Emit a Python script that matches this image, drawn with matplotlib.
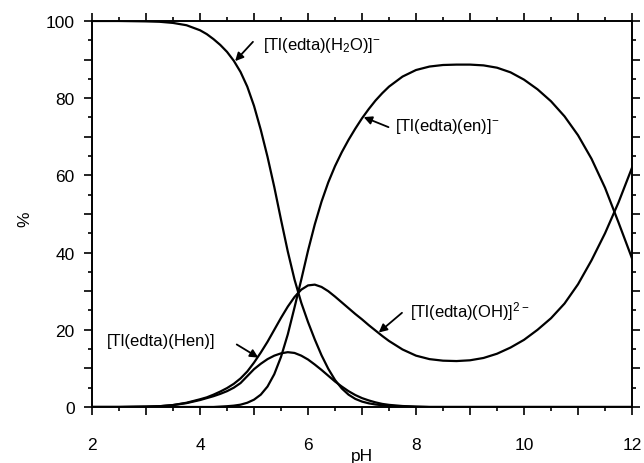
import matplotlib
matplotlib.use("Agg")
import matplotlib.pyplot as plt
from matplotlib.ticker import FixedLocator

plt.rcParams["font.family"] = ["Liberation Sans", "DejaVu Sans"]
plt.rcParams["mathtext.fontset"] = "custom"
plt.rcParams["mathtext.rm"] = "Liberation Sans"
plt.rcParams["mathtext.it"] = "Liberation Sans:italic"

# pH grid (finer in the steep region)
ph = [2.0, 2.5, 3.0, 3.25, 3.5, 3.75, 4.0,
      4.125, 4.25, 4.375, 4.5, 4.625, 4.75, 4.875, 5.0, 5.125, 5.25, 5.375,
      5.5, 5.625, 5.75, 5.875, 6.0, 6.125, 6.25, 6.375, 6.5, 6.625, 6.75,
      6.875, 7.0, 7.125, 7.25, 7.375, 7.5,
      7.75, 8.0, 8.25, 8.5, 8.75, 9.0, 9.25, 9.5, 9.75, 10.0, 10.25, 10.5,
      10.75, 11.0, 11.25, 11.5, 11.75, 12.0]

# species distribution, %
h2o = [100, 100, 99.9, 99.8, 99.5, 98.9, 97.6,
       96.6, 95.3, 93.8, 92.0, 89.7, 86.8, 83.0, 78.0, 71.8, 64.8, 57.0,
       48.5, 40.3, 33.0, 27.0, 22.0, 17.5, 13.4, 9.9, 7.0, 4.8, 3.2,
       2.1, 1.4, 0.95, 0.65, 0.45, 0.3,
       0.15, 0.05, 0, 0, 0, 0, 0, 0, 0, 0, 0, 0,
       0, 0, 0, 0, 0, 0]
hen = [0, 0, 0.1, 0.2, 0.5, 1.0, 1.8,
       2.3, 2.8, 3.4, 4.1, 5.0, 6.2, 8.0, 9.8, 11.2, 12.4, 13.3,
       13.9, 14.2, 14.0, 13.3, 12.3, 11.0, 9.6, 8.1, 6.6, 5.3, 4.1,
       3.1, 2.3, 1.7, 1.2, 0.8, 0.55,
       0.25, 0.1, 0, 0, 0, 0, 0, 0, 0, 0, 0, 0,
       0, 0, 0, 0, 0, 0]
oh = [0, 0, 0.1, 0.2, 0.5, 1.1, 2.0,
      2.5, 3.2, 4.0, 4.9, 6.0, 7.4, 9.2, 11.5, 14.1, 16.9, 20.0,
      23.1, 26.0, 28.5, 30.4, 31.5, 31.7, 31.1, 30.0, 28.6, 27.1, 25.6,
      24.1, 22.7, 21.2, 19.8, 18.4, 17.1,
      14.9, 13.3, 12.4, 12.0, 11.9, 12.1, 12.7, 13.8, 15.4, 17.4, 20.0, 23.0,
      26.8, 31.8, 38.0, 45.0, 53.0, 62.0]
en = [0, 0, 0, 0, 0, 0, 0,
      0, 0, 0.1, 0.2, 0.35, 0.6, 1.1, 1.9, 3.2, 5.3, 8.5,
      13.0, 18.8, 25.8, 33.0, 40.5, 47.3, 53.2, 58.2, 62.4, 66.0, 69.2,
      72.1, 74.8, 77.2, 79.4, 81.3, 83.0,
      85.6, 87.3, 88.2, 88.6, 88.7, 88.7, 88.5, 87.9, 86.7, 84.8, 82.3, 79.2,
      75.3, 70.4, 64.3, 56.8, 47.8, 38.5]

labels = [r"[Tl(edta)(H$_2$O)]$^{-}$", r"[Tl(edta)(en)]$^{-}$",
          r"[Tl(edta)(OH)]$^{2-}$", "[Tl(edta)(Hen)]"]

fig = plt.figure(figsize=(6.44, 4.64), dpi=100)
ax = fig.add_axes([0.1429, 0.1207, 0.8385, 0.8319])

for y in (h2o, hen, oh, en):
    ax.plot(ph, y, color="black", lw=1.6, solid_joinstyle="round")

ax.set_xlim(2, 12)
ax.set_ylim(0, 100)

# ticks on all sides, pointing out
ax.xaxis.set_major_locator(FixedLocator(range(2, 13)))
ax.xaxis.set_minor_locator(FixedLocator([x + 0.5 for x in range(2, 12)]))
ax.set_xticklabels([str(x) if x % 2 == 0 else "" for x in range(2, 13)])
ax.yaxis.set_major_locator(FixedLocator(range(0, 101, 10)))
ax.yaxis.set_minor_locator(FixedLocator(range(5, 100, 10)))
ax.set_yticklabels([str(v) if v % 20 == 0 else "" for v in range(0, 101, 10)])
ax.tick_params(which="both", direction="out", top=True, right=True,
               width=1.2, labelsize=12.5)
ax.tick_params(which="major", length=5.5)
ax.tick_params(which="minor", length=3)
ax.tick_params(axis="x", which="major", pad=16)
ax.tick_params(axis="y", which="major", pad=7)
for s in ax.spines.values():
    s.set_linewidth(1.4)

ax.set_xlabel("pH", fontsize=12.5)
ax.xaxis.set_label_coords(0.5, -0.105)
ax.text(-0.125, 0.49, "%", transform=ax.transAxes, rotation=90,
        ha="center", va="center", fontsize=12.5)

arrow = dict(arrowstyle="-|>", color="black", lw=1.3, mutation_scale=12,
             shrinkA=0, shrinkB=0)

# label text (pH, %) and arrow start -> tip
ax.text(5.17, 94.0, labels[0], fontsize=12, va="center", ha="left")
ax.annotate("", xy=(4.65, 89.6), xytext=(4.98, 94.6), arrowprops=arrow)

ax.text(7.61, 72.8, labels[1], fontsize=12, va="center", ha="left")
ax.annotate("", xy=(7.03, 75.1), xytext=(7.49, 72.5), arrowprops=arrow)

ax.text(7.89, 24.9, labels[2], fontsize=12, va="center", ha="left")
ax.annotate("", xy=(7.31, 19.3), xytext=(7.74, 24.4), arrowprops=arrow)

ax.text(2.28, 17.1, labels[3], fontsize=12, va="center", ha="left")
ax.annotate("", xy=(5.08, 12.8), xytext=(4.68, 16.2), arrowprops=arrow)

fig.savefig("out.png", dpi=100)
